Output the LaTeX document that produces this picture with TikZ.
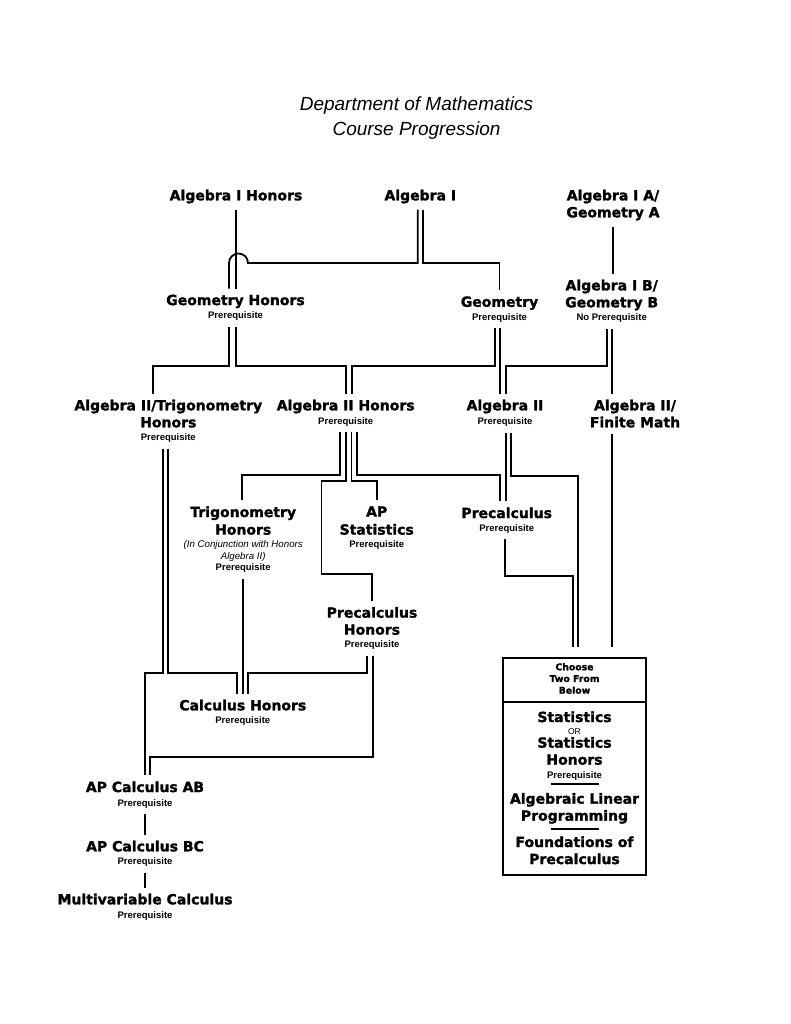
\documentclass[tikz,border=0pt]{standalone}
\usepackage{fontspec}
\setmainfont{Liberation Sans}
\newfontfamily\dejavu{DejaVu Sans}[BoldFeatures={FakeBold=1.5}]
\newcommand\prq{{\rmfamily\bfseries\fontsize{9.5}{11}\selectfont Prerequisite}}
\newcommand\aside[1]{{\rmfamily\mdseries\itshape\fontsize{9.7}{11}\selectfont #1}}

\begin{document}
\begin{tikzpicture}[x=1pt,y=-1pt,
	course/.style={align=center,inner sep=6pt,anchor=north,font=\dejavu\bfseries\fontsize{14}{17}\selectfont},
	boxtext/.style={align=center,inner sep=0pt,anchor=north,font=\dejavu\bfseries\fontsize{14}{17}\selectfont},
	link/.style={line width=1.8pt},
	tobox/.style={link,shorten >=10pt}]
\fill[white] (0,0) rectangle (791,1024);
\useasboundingbox (0,0) rectangle (791,1024);

\node[font=\itshape\fontsize{19}{25}\selectfont,align=center,anchor=north,inner sep=0pt] (title) at (416.5,96.9) {Department of Mathematics\\Course Progression};

% first year
\node[course] (algihon) at (236,183.5) {Algebra I Honors};
\node[course] (algi) at (420.3,183.5) {Algebra I};
\node[course] (algia) at (613,183.5) {Algebra I A/\\Geometry A};

% second year
\node[course] (geomhon) at (235.5,288.5) {Geometry Honors\\[-3.7pt]\prq};
\node[course] (geom) at (499.5,290.2) {Geometry\\[-3.7pt]\prq};
\node[course] (algib) at (611.7,273.5) {Algebra I B/\\Geometry B\\[-3.7pt]{\rmfamily\bfseries\fontsize{9.5}{11}\selectfont No Prerequisite}};

% third year
\node[course] (algiitrig) at (168.3,393.5) {Algebra II/Trigonometry\\Honors\\[-3.7pt]\prq};
\node[course] (algiihon) at (345.7,393.5) {Algebra II Honors\\[-3.2pt]\prq};
\node[course] (algii) at (505,393.5) {Algebra II\\[-3pt]\prq};
\node[course] (algiifin) at (635,393.5) {Algebra II/\\Finite Math};

% fourth year
\node[course] (trighon) at (243.2,500.2) {Trigonometry\\[0.6pt]Honors\\[-4pt]\aside{(In Conjunction with Honors}\\[-5.3pt]\aside{Algebra II)}\\[-6pt]\prq};
\node[course] (apstat) at (376.7,500.2) {AP\\[1pt]Statistics\\[-3.7pt]\prq};
\node[course] (precalc) at (506.7,501.2) {Precalculus\\[-4pt]\prq};
\node[course] (precalchon) at (372,600.8) {Precalculus\\Honors\\[-4pt]\prq};
\node[course] (calchon) at (242.8,693.5) {Calculus Honors\\[-3.7pt]\prq};

% calculus sequence
\node[course] (apcalcab) at (145,775.2) {AP Calculus AB\\[-3pt]\prq};
\node[course] (apcalcbc) at (145,834.5) {AP Calculus BC\\[-3.7pt]\prq};
\node[course] (multicalc) at (145,887.5) {Multivariable Calculus\\[-3.3pt]\prq};

% electives box
\node[draw,line width=1.8pt,minimum width=143pt,minimum height=217pt,inner sep=0pt] (choose) at (574.5,766.5) {};
\draw[link] (choose.west |- 0,701.7) -- (choose.east |- 0,701.7);
\node[boxtext,font=\dejavu\bfseries\fontsize{9.3}{11.7}\selectfont] (header) at (574.5,663) {Choose\\Two From\\Below};
\node[boxtext] (stats) at (574.5,711.2) {Statistics\\[-4.4pt]{\rmfamily\mdseries\fontsize{8.5}{9}\selectfont OR}\\[-4pt]Statistics\\Honors\\[-2.7pt]\prq};
\node[boxtext] (linprog) at (574.5,792.8) {Algebraic Linear\\Programming};
\node[boxtext] (found) at (574.5,836.2) {Foundations of\\Precalculus};
\draw[link] ([xshift=-24pt]choose.north |- 0,784.3) -- ([xshift=24pt]choose.north |- 0,784.3);
\draw[link] ([xshift=-24pt]choose.north |- 0,829.3) -- ([xshift=24pt]choose.north |- 0,829.3);

% algebra I to geometry
\draw[link] (algihon.south) -- (algihon.south |- geomhon.north);
\draw[link] ([xshift=-2.5pt]algi.south) |- ([xshift=12pt]algihon.south |- 0,263) arc[start angle=0,end angle=180,radius=9.5pt] -- ([xshift=-6.5pt]geomhon.north);
\draw[link] ([xshift=2.5pt]algi.south) |- (geom.north |- 0,263) -- (geom.north);
\draw[link] (algia.south) -- (algia.south |- algib.north);

% geometry to algebra II
\draw[link] ([xshift=-6.5pt]geomhon.south) |- ([xshift=-15pt]algiitrig.north |- 0,366) -- ([xshift=-15pt]algiitrig.north);
\draw[link] ([xshift=0.5pt]geomhon.south) |- (algiihon.north |- 0,366) -- (algiihon.north);
\draw[link] ([xshift=-4.5pt]geom.south) |- ([xshift=6pt]algiihon.north |- 0,366) -- ([xshift=6pt]algiihon.north);
\draw[link] ([xshift=0.5pt]geom.south) -- ([xshift=0.5pt]geom.south |- algii.north);
\draw[link] ([xshift=-5pt]algib.south) |- ([xshift=0.7pt]algii.north |- 0,366) -- ([xshift=0.7pt]algii.north);
\draw[link] ([xshift=0.5pt]algib.south) -- ([xshift=0.5pt]algib.south |- algiifin.north);

% algebra II onwards
\draw[link] ([xshift=-5.5pt]algiitrig.south) |- (apcalcab.north |- 0,673) -- (apcalcab.north);
\draw[link] (algiitrig.south) |- ([xshift=-5.5pt]calchon.north |- 0,673) -- ([xshift=-5.5pt]calchon.north);
\draw[link] ([xshift=-5.7pt]algiihon.south) |- ([xshift=-1pt]trighon.north |- 0,475) -- ([xshift=-1pt]trighon.north);
\draw[link] (algiihon.south) |- (321.5,481) |- (precalchon.north |- 0,574) -- (precalchon.north);
\draw[link] ([xshift=5.7pt]algiihon.south) |- (apstat.north |- 0,481) -- (apstat.north);
\draw[link] ([xshift=11.3pt]algiihon.south) |- ([xshift=-6.7pt]precalc.north |- 0,475) -- ([xshift=-6.7pt]precalc.north);
\draw[link] ([xshift=0.7pt]algii.south) -- ([xshift=0.7pt]algii.south |- precalc.north);
\draw[tobox] ([xshift=6pt]algii.south) |- ([xshift=3.2pt]choose.north |- 0,475.7) -- ([xshift=3.2pt]choose.north);
\draw[tobox] ([xshift=-1.7pt]precalc.south) |- ([xshift=-1.2pt]choose.north |- 0,576) -- ([xshift=-1.2pt]choose.north);
\draw[tobox] ([xshift=-23pt]algiifin.south) -- ([xshift=-23pt]algiifin.south |- choose.north);

% to calculus
\draw[link] (trighon.south) -- (trighon.south |- calchon.north);
\draw[link] ([xshift=-4.7pt]precalchon.south) |- ([xshift=5pt]calchon.north |- 0,673) -- ([xshift=5pt]calchon.north);
\draw[link] ([xshift=0.7pt]precalchon.south) |- ([xshift=5pt]apcalcab.north |- 0,757) -- ([xshift=5pt]apcalcab.north);
\draw[link] (apcalcab.south) -- (apcalcbc.north);
\draw[link] (apcalcbc.south) -- (multicalc.north);

\end{tikzpicture}
\end{document}
